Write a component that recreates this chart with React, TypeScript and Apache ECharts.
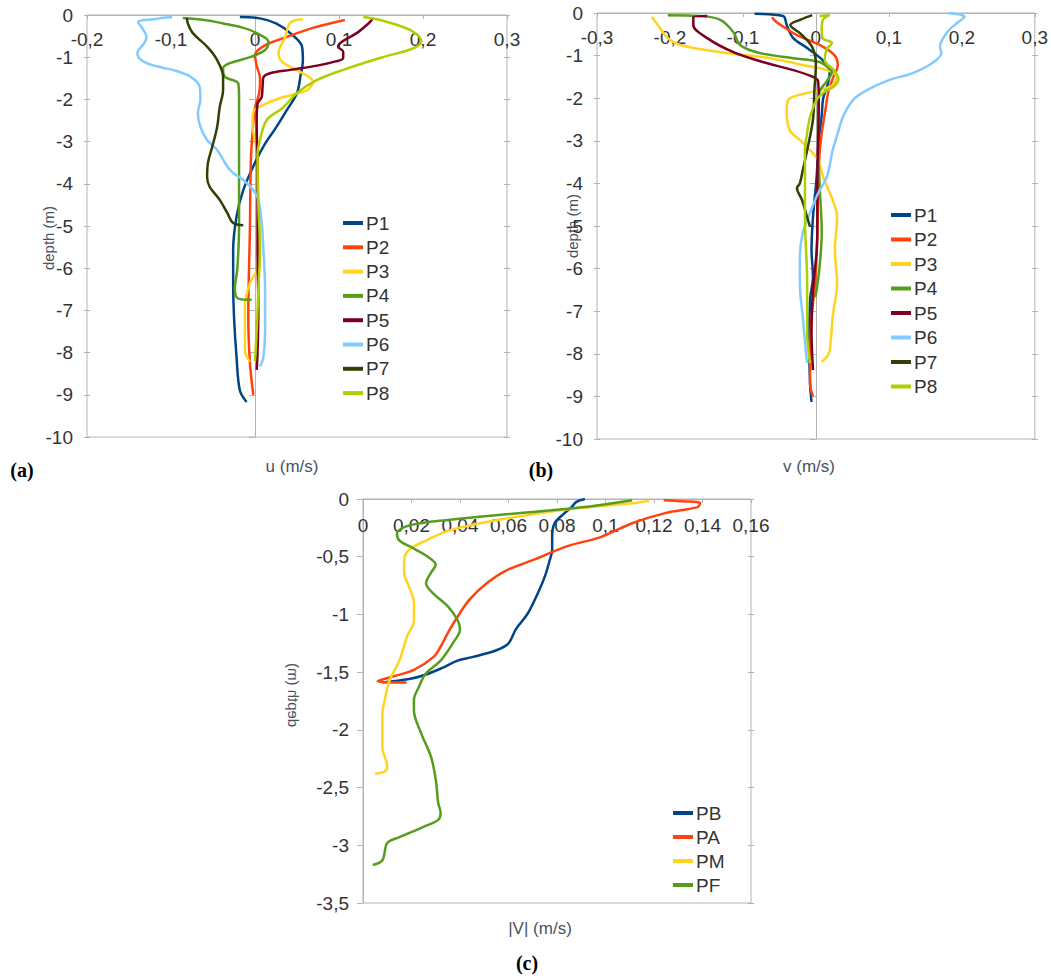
import React, { useEffect, useRef } from "react";
import * as echarts from "echarts";

// ---------- Panel (a): u (m/s) vs depth (m) ----------
const aP1 = [[-0.018,-0.05],[0.006,-0.08],[0.025,-0.2],[0.042,-0.43],[0.056,-0.75],[0.057,-1.07],[0.054,-1.46],[0.05,-1.85],[0.038,-2.25],[0.024,-2.7],[0.012,-3.05],[0.0,-3.5],[-0.014,-4.15],[-0.022,-4.78],[-0.026,-5.57],[-0.026,-6.35],[-0.025,-7.15],[-0.022,-8.1],[-0.018,-8.9],[-0.01,-9.17]];
const aP2 = [[0.107,-0.12],[0.07,-0.3],[0.038,-0.52],[0.012,-0.72],[0.0,-0.95],[0.002,-1.2],[0.006,-1.5],[0.005,-1.85],[0.0,-2.2],[-0.003,-2.8],[-0.005,-3.5],[-0.006,-5],[-0.008,-7.15],[-0.006,-8.25],[-0.002,-9.0]];
const aP3 = [[0.057,-0.1],[0.042,-0.18],[0.036,-0.52],[0.028,-0.9],[0.033,-1.12],[0.054,-1.35],[0.069,-1.58],[0.062,-1.78],[0.033,-1.95],[0.01,-2.13],[-0.002,-2.3],[-0.003,-2.6],[0.002,-3.2],[0.004,-4.5],[0.004,-5.6],[0.003,-6.0],[-0.006,-6.35],[-0.012,-6.9],[-0.012,-7.95],[-0.006,-8.22]];
const aP4 = [[-0.086,-0.07],[-0.06,-0.12],[-0.038,-0.2],[-0.015,-0.3],[0.002,-0.43],[0.016,-0.64],[0.012,-0.83],[-0.006,-1.0],[-0.03,-1.14],[-0.038,-1.26],[-0.036,-1.46],[-0.02,-1.62],[-0.019,-1.94],[-0.019,-3],[-0.019,-4],[-0.019,-5],[-0.021,-6],[-0.024,-6.5],[-0.02,-6.72],[-0.004,-6.75]];
const aP5 = [[0.14,-0.08],[0.139,-0.12],[0.135,-0.2],[0.121,-0.43],[0.103,-0.64],[0.099,-0.75],[0.105,-0.87],[0.105,-1.02],[0.096,-1.1],[0.074,-1.2],[0.042,-1.3],[0.018,-1.38],[0.01,-1.48],[0.009,-1.7],[0.008,-1.94],[0.003,-2.1],[0.002,-2.5],[0.003,-4],[0.003,-5.5],[0.004,-7],[0.003,-8.0],[0.002,-8.41]];
const aP6 = [[-0.099,-0.05],[-0.12,-0.1],[-0.139,-0.17],[-0.133,-0.35],[-0.129,-0.52],[-0.132,-0.67],[-0.14,-0.9],[-0.138,-1.02],[-0.129,-1.14],[-0.11,-1.25],[-0.098,-1.3],[-0.077,-1.46],[-0.066,-1.7],[-0.065,-2.0],[-0.068,-2.33],[-0.065,-2.65],[-0.057,-2.96],[-0.045,-3.2],[-0.03,-3.67],[-0.014,-3.91],[-0.002,-4.15],[0.004,-4.38],[0.008,-4.93],[0.01,-5.57],[0.012,-6.5],[0.012,-7.5],[0.01,-8.1],[0.006,-8.33]];
const aP7 = [[-0.081,-0.07],[-0.08,-0.2],[-0.074,-0.43],[-0.057,-0.75],[-0.045,-1.07],[-0.038,-1.46],[-0.038,-1.78],[-0.042,-2.18],[-0.045,-2.65],[-0.051,-3.13],[-0.056,-3.5],[-0.057,-3.84],[-0.054,-4.07],[-0.042,-4.38],[-0.033,-4.69],[-0.026,-4.93],[-0.014,-4.98]];
const aP8 = [[0.129,-0.05],[0.149,-0.12],[0.185,-0.36],[0.198,-0.62],[0.19,-0.78],[0.152,-1.0],[0.105,-1.3],[0.074,-1.54],[0.05,-1.85],[0.033,-2.2],[0.014,-2.49],[0.006,-2.96],[0.003,-3.3],[0.004,-4.5],[0.006,-5.5],[0.004,-6.5],[0.002,-7.5],[0.0,-8.2]];

// ---------- Panel (b): v (m/s) vs depth (m) ----------
const bP1 = [[-0.084,-0.02],[-0.045,-0.07],[-0.04,-0.28],[-0.031,-0.59],[-0.012,-0.82],[0.01,-1.12],[0.019,-1.38],[0.016,-1.69],[0.01,-2.0],[0.008,-2.4],[0.005,-2.82],[0.003,-3.22],[0.001,-3.85],[-0.004,-4.79],[-0.006,-5.56],[-0.004,-6.2],[-0.008,-6.74],[-0.009,-7.9],[-0.008,-8.69],[-0.006,-9.13]];
const bP2 = [[-0.06,-0.1],[-0.055,-0.2],[-0.042,-0.35],[-0.026,-0.52],[0.005,-0.75],[0.026,-1.0],[0.03,-1.24],[0.024,-1.5],[0.017,-1.85],[0.013,-2.28],[0.008,-2.82],[0.005,-3.3],[0.003,-4.0],[0.002,-5.16],[-0.001,-6.34],[-0.005,-6.97],[-0.008,-7.91],[-0.008,-8.7],[-0.004,-9.0]];
const bP3 = [[-0.225,-0.09],[-0.218,-0.25],[-0.203,-0.59],[-0.186,-0.75],[-0.131,-0.92],[-0.063,-1.06],[-0.018,-1.22],[0.015,-1.34],[0.029,-1.5],[0.023,-1.69],[0.005,-1.81],[-0.022,-1.92],[-0.038,-2.04],[-0.04,-2.32],[-0.036,-2.75],[-0.022,-2.98],[-0.008,-3.22],[0.003,-3.45],[0.01,-3.85],[0.023,-4.39],[0.029,-4.79],[0.026,-5.56],[0.029,-6.34],[0.023,-7.13],[0.019,-7.91],[0.015,-8.07],[0.008,-8.19]];
const bP4 = [[-0.203,-0.05],[-0.159,-0.07],[-0.131,-0.16],[-0.113,-0.45],[-0.104,-0.75],[-0.077,-0.94],[-0.031,-1.06],[0.005,-1.15],[0.016,-1.27],[0.022,-1.38],[0.015,-1.6],[0.005,-1.85],[0.003,-2.28],[0.003,-3.0],[0.005,-4.0],[0.008,-5.16],[0.005,-5.96],[0.001,-6.5],[-0.001,-6.67]];
const bP5 = [[-0.149,-0.07],[-0.168,-0.1],[-0.168,-0.28],[-0.149,-0.59],[-0.113,-0.92],[-0.073,-1.15],[-0.031,-1.34],[-0.004,-1.5],[0.003,-1.6],[0.004,-2.04],[0.003,-3.0],[0.002,-4.0],[0.002,-5.02],[0.001,-5.6],[-0.004,-6.5],[-0.006,-7.5],[-0.004,-8.38]];
const bP6 = [[0.181,0],[0.204,-0.09],[0.193,-0.24],[0.179,-0.47],[0.17,-0.8],[0.172,-0.94],[0.16,-1.17],[0.133,-1.41],[0.101,-1.57],[0.07,-1.81],[0.051,-2.04],[0.037,-2.44],[0.03,-2.82],[0.023,-3.22],[0.015,-3.85],[0.003,-4.23],[-0.008,-4.69],[-0.018,-5.16],[-0.022,-5.73],[-0.022,-6.34],[-0.018,-7.13],[-0.014,-7.91],[-0.012,-8.22]];
const bP7 = [[-0.005,-0.05],[-0.02,-0.15],[-0.035,-0.28],[-0.02,-0.5],[-0.005,-0.8],[0.0,-1.2],[-0.002,-1.8],[-0.004,-2.5],[-0.012,-3.22],[-0.018,-3.69],[-0.022,-4.0],[-0.026,-4.11],[-0.019,-4.39],[-0.012,-4.79],[-0.008,-5.02]];
const bP8 = [[0.005,-0.07],[0.019,-0.05],[0.01,-0.15],[0.008,-0.35],[0.009,-0.59],[0.022,-0.7],[0.015,-0.85],[0.012,-1.1],[0.025,-1.35],[0.031,-1.55],[0.025,-1.72],[0.012,-1.85],[0.001,-2.04],[-0.008,-2.44],[-0.012,-2.82],[-0.015,-3.22],[-0.015,-4.0],[-0.015,-4.79],[-0.012,-6.34],[-0.012,-7.51],[-0.008,-8.22]];

// ---------- Panel (c): |V| (m/s) vs depth (m) ----------
const cPB = [[0.0915,0],[0.088,-0.025],[0.086,-0.07],[0.083,-0.125],[0.079,-0.21],[0.078,-0.33],[0.078,-0.44],[0.077,-0.53],[0.075,-0.67],[0.072,-0.82],[0.068,-0.99],[0.063,-1.13],[0.06,-1.25],[0.055,-1.31],[0.045,-1.37],[0.039,-1.4],[0.033,-1.46],[0.026,-1.52],[0.019,-1.56],[0.008,-1.59]];
const cPA = [[0.124,-0.01],[0.132,-0.02],[0.139,-0.035],[0.138,-0.07],[0.125,-0.12],[0.111,-0.21],[0.098,-0.33],[0.084,-0.41],[0.07,-0.53],[0.059,-0.62],[0.051,-0.73],[0.044,-0.87],[0.039,-1.02],[0.035,-1.16],[0.032,-1.28],[0.029,-1.37],[0.021,-1.48],[0.012,-1.54],[0.006,-1.58],[0.018,-1.59]];
const cPM = [[0.118,-0.015],[0.11,-0.04],[0.084,-0.09],[0.056,-0.18],[0.036,-0.27],[0.026,-0.36],[0.019,-0.44],[0.017,-0.53],[0.017,-0.64],[0.019,-0.76],[0.021,-0.9],[0.021,-1.05],[0.018,-1.2],[0.015,-1.4],[0.011,-1.57],[0.009,-1.74],[0.008,-1.86],[0.008,-2.15],[0.01,-2.32],[0.009,-2.36],[0.005,-2.38]];
const cPF = [[0.111,-0.01],[0.091,-0.07],[0.063,-0.125],[0.036,-0.18],[0.019,-0.23],[0.014,-0.3],[0.015,-0.36],[0.021,-0.43],[0.026,-0.49],[0.03,-0.57],[0.028,-0.64],[0.026,-0.73],[0.029,-0.82],[0.035,-0.93],[0.039,-1.05],[0.04,-1.13],[0.037,-1.25],[0.032,-1.4],[0.026,-1.51],[0.023,-1.63],[0.021,-1.74],[0.021,-1.83],[0.024,-2.03],[0.028,-2.23],[0.03,-2.43],[0.031,-2.63],[0.032,-2.72],[0.031,-2.78],[0.025,-2.84],[0.015,-2.93],[0.01,-2.98],[0.008,-3.13],[0.004,-3.17]];

const namesAB = ["P1", "P2", "P3", "P4", "P5", "P6", "P7", "P8"];
const colorsAB = ["#004586", "#ff420e", "#ffd320", "#579d1c", "#7e0021", "#83caff", "#314004", "#aecf00"];
const dataA = [aP1, aP2, aP3, aP4, aP5, aP6, aP7, aP8];
const dataB = [bP1, bP2, bP3, bP4, bP5, bP6, bP7, bP8];
const namesC = ["PB", "PA", "PM", "PF"];
const colorsC = ["#004586", "#ff420e", "#ffd320", "#579d1c"];
const dataC = [cPB, cPA, cPM, cPF];

const FONT = "Liberation Sans";
const AXIS_GRAY = "#b3b3b3";
const LABEL = "#333333";

const fmt = (v: number) => String(Math.round(v * 100) / 100).replace(".", ",");

function xAxisDef(gridIndex: number, min: number, max: number, interval: number, margin: number) {
  return {
    type: "value", gridIndex, min, max, interval, position: "top",
    axisLine: { show: true, onZero: false, lineStyle: { color: AXIS_GRAY, width: 1 } },
    axisTick: { show: true, inside: true, length: 4, lineStyle: { color: AXIS_GRAY } },
    axisLabel: { inside: true, fontSize: 19, fontFamily: FONT, color: LABEL, margin, formatter: fmt },
    splitLine: { show: false },
  };
}
function yAxisDef(gridIndex: number, min: number, max: number, interval: number) {
  return {
    type: "value", gridIndex, min, max, interval, position: "left",
    axisLine: { show: true, onZero: true, lineStyle: { color: AXIS_GRAY, width: 1 } },
    axisTick: { show: true, length: 6, lineStyle: { color: AXIS_GRAY } },
    axisLabel: { fontSize: 19, fontFamily: FONT, color: LABEL, margin: 14, formatter: fmt },
    splitLine: { show: false },
  };
}
// tick marks crossing the plot border (no line, no labels)
function borderTicks(gridIndex: number, min: number, max: number, interval: number, position: string) {
  return {
    type: "value", gridIndex, min, max, interval, position, offset: -3,
    axisLine: { show: false, onZero: false },
    axisTick: { show: true, length: 6, lineStyle: { color: AXIS_GRAY } },
    axisLabel: { show: false },
    splitLine: { show: false },
  };
}

function legendDef(data: string[], left: number, top: number, gap: number) {
  return {
    data, orient: "vertical", left, top, padding: 0, icon: "rect",
    itemWidth: 20, itemHeight: 4, itemGap: gap,
    textStyle: { fontSize: 19, lineHeight: 20, fontFamily: FONT, color: LABEL, padding: [0, 0, 0, -2] },
  };
}

export default function App() {
  const ref = useRef<HTMLDivElement>(null);
  useEffect(() => {
    if (!ref.current) return;
    const chart = echarts.init(ref.current, null, { renderer: "svg" });
    const series: any[] = [];
    dataA.forEach((d, i) => series.push({ type: "line", name: namesAB[i], xAxisIndex: 0, yAxisIndex: 0, data: d, smooth: 0.35, showSymbol: false, color: colorsAB[i], lineStyle: { width: 2.5, color: colorsAB[i] } }));
    dataB.forEach((d, i) => series.push({ type: "line", name: namesAB[i], xAxisIndex: 1, yAxisIndex: 1, data: d, smooth: 0.35, showSymbol: false, color: colorsAB[i], lineStyle: { width: 2.5, color: colorsAB[i] } }));
    dataC.forEach((d, i) => series.push({ type: "line", name: namesC[i], xAxisIndex: 2, yAxisIndex: 2, data: d, smooth: 0.35, showSymbol: false, color: colorsC[i], lineStyle: { width: 2.5, color: colorsC[i] } }));

    const nameStyle = { fill: "#4a5260", font: `15px "${FONT}"`, align: "center", verticalAlign: "middle" };
    const xNameStyle = { fill: "#4a5260", font: `17px "${FONT}"`, align: "center", verticalAlign: "middle" };
    const panelStyle = { fill: "#000", font: `bold 20px "Liberation Serif"`, align: "center", verticalAlign: "middle" };

    chart.setOption({
      animation: false,
      backgroundColor: "#ffffff",
      grid: [
        { left: 87, top: 15, width: 420, height: 422, show: true, borderColor: AXIS_GRAY, borderWidth: 1 },
        { left: 597, top: 13, width: 438, height: 426, show: true, borderColor: AXIS_GRAY, borderWidth: 1 },
        { left: 363, top: 499, width: 388, height: 404, show: true, borderColor: AXIS_GRAY, borderWidth: 1 },
      ],
      xAxis: [
        xAxisDef(0, -0.2, 0.3, 0.1, 15),
        xAxisDef(1, -0.3, 0.3, 0.1, 15),
        xAxisDef(2, 0, 0.16, 0.02, 17),
      ],
      yAxis: [
        yAxisDef(0, -10, 0, 1),
        yAxisDef(1, -10, 0, 1),
        yAxisDef(2, -3.5, 0, 0.5),
        borderTicks(0, -10, 0, 1, "left"),
        borderTicks(0, -10, 0, 1, "right"),
        borderTicks(1, -10, 0, 1, "left"),
        borderTicks(1, -10, 0, 1, "right"),
        borderTicks(2, -3.5, 0, 0.5, "right"),
      ],
      legend: [
        legendDef(namesAB, 343, 213, 4.3),
        legendDef(namesAB, 891, 205, 4.5),
        legendDef(namesC, 673, 803, 4),
      ],
      graphic: [
        { type: "text", x: 48, y: 238, rotation: Math.PI / 2, style: { ...nameStyle, text: "depth (m)" } },
        { type: "text", x: 572, y: 226, rotation: Math.PI / 2, style: { ...nameStyle, text: "depth (m)" } },
        { type: "text", x: 293, y: 695, rotation: -Math.PI / 2, scaleX: -1, style: { ...nameStyle, text: "depth (m)" } },
        { type: "text", x: 292, y: 466, style: { ...xNameStyle, text: "u (m/s)" } },
        { type: "text", x: 809, y: 466, style: { ...xNameStyle, text: "v (m/s)" } },
        { type: "text", x: 540, y: 928, style: { ...xNameStyle, text: "|V| (m/s)" } },
        { type: "text", x: 22, y: 470, style: { ...panelStyle, text: "(a)" } },
        { type: "text", x: 541, y: 470, style: { ...panelStyle, text: "(b)" } },
        { type: "text", x: 527, y: 963, style: { ...panelStyle, text: "(c)" } },
      ],
      series,
    });
    return () => chart.dispose();
  }, []);
  return <div ref={ref} style={{ position: "absolute", left: 0, top: 0, width: 1051, height: 976 }} />;
}
